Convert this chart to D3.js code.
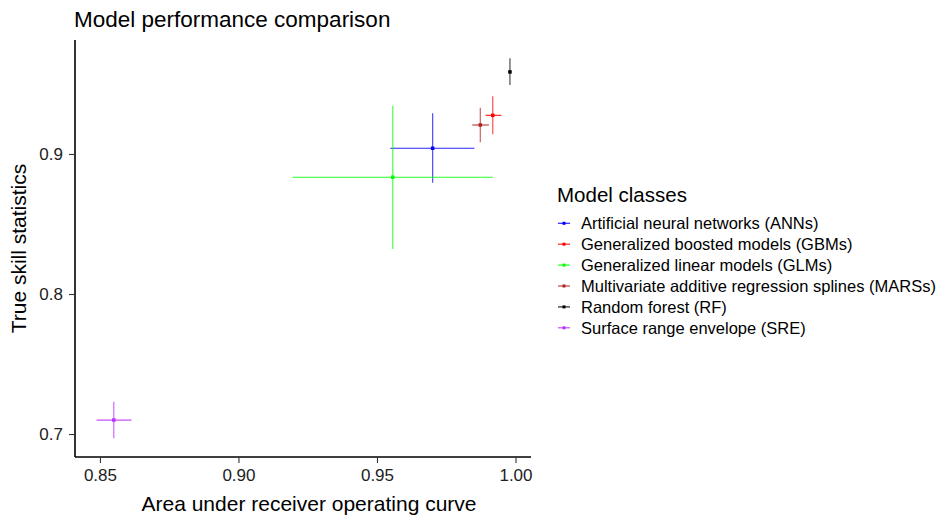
<!DOCTYPE html>
<html>
<head>
<meta charset="utf-8">
<script src="https://cdn.jsdelivr.net/npm/d3@7"></script>
<style>
  body { margin: 0; background: #fff; }
  text { font-family: "Liberation Sans", Arial, Helvetica, sans-serif; }
</style>
</head>
<body>
<div id="chart"></div>
<script>
var width  = 938,
    height = 520;

// data
var models   = ["Artificial neural networks (ANNs)", "Generalized boosted models (GBMs)",
                "Generalized linear models (GLMs)", "Multivariate additive regression splines (MARSs)",
                "Random forest (RF)", "Surface range envelope (SRE)"];
var colors   = ["#0000ff", "#ff0000", "#00ff00", "#b22222", "#000000", "#bb30ff"];
var aucMean  = [0.9701, 0.9918, 0.9557, 0.9873, 0.9980, 0.8550];
var aucLo    = [0.9548, 0.9892, 0.9195, 0.9844, 0.9976, 0.8488];
var aucHi    = [0.9852, 0.9949, 0.9918, 0.9904, 0.9984, 0.8614];
var tssMean  = [0.9041, 0.9276, 0.8834, 0.9207, 0.9586, 0.7100];
var tssLo    = [0.8795, 0.9141, 0.8321, 0.9083, 0.9493, 0.6970];
var tssHi    = [0.9290, 0.9412, 0.9345, 0.9331, 0.9683, 0.7230];
var xTicks   = [0.85, 0.90, 0.95, 1.00];
var yTicks   = [0.7, 0.8, 0.9];

var rows = models.map(function(m, i) {
    return { name: m, color: colors[i],
             x: aucMean[i], x0: aucLo[i], x1: aucHi[i],
             y: tssMean[i], y0: tssLo[i], y1: tssHi[i] };
});

var plotL = 75, plotR = 531, plotT = 40, plotB = 457;

var x = d3.scaleLinear()
    .domain([0.8410, 1.0056])
    .range([plotL, plotR]);
var y = d3.scaleLinear()
    .domain([0.6836, 0.9814])
    .range([plotB, plotT]);

var svg = d3.select("#chart").append("svg")
    .attr("width", width)
    .attr("height", height);

svg.append("rect").attr("width", width).attr("height", height).attr("fill", "#fff");

// title
svg.append("text")
    .attr("x", plotL - 1)
    .attr("y", 27)
    .style("font-size", "22.5px")
    .attr("fill", "#000")
    .text("Model performance comparison");

// axes
var gX = svg.append("g")
    .attr("transform", "translate(0," + plotB + ")")
    .call(d3.axisBottom(x).tickValues(xTicks).tickFormat(d3.format(".2f")).tickSize(6).tickPadding(6));
var gY = svg.append("g")
    .attr("transform", "translate(" + plotL + ",0)")
    .call(d3.axisLeft(y).tickValues(yTicks).tickFormat(d3.format(".1f")).tickSize(6).tickPadding(6));

[gX, gY].forEach(function(g) {
    g.select(".domain").attr("stroke", "#000").attr("stroke-width", 1.6);
    g.selectAll(".tick line").attr("stroke", "#333").attr("stroke-width", 1.1);
    g.selectAll(".tick text")
        .style("font-size", "17px")
        .style("font-family", "'Liberation Sans', Arial, sans-serif")
        .attr("fill", "#222");
});
gX.select(".domain").attr("d", "M" + plotL + ",0H" + plotR);
gY.select(".domain").attr("d", "M0," + plotT + "V" + plotB);

// axis titles
svg.append("text")
    .attr("x", 309)
    .attr("y", 511)
    .attr("text-anchor", "middle")
    .style("font-size", "21px")
    .text("Area under receiver operating curve");

svg.append("text")
    .attr("transform", "translate(26," + ((plotT + plotB) / 2) + ") rotate(-90)")
    .attr("text-anchor", "middle")
    .style("font-size", "21px")
    .text("True skill statistics");

// error bars
var plot = svg.append("g").attr("id", "plot");

var marks = plot.selectAll("g.model")
    .data(rows)
    .enter()
    .append("g")
    .attr("class", "model");

// horizontal = auc spread
marks.append("line")
    .attr("x1", function(d) { return x(d.x0); })
    .attr("x2", function(d) { return x(d.x1); })
    .attr("y1", function(d) { return y(d.y); })
    .attr("y2", function(d) { return y(d.y); })
    .attr("stroke", function(d) { return d.color; })
    .attr("stroke-opacity", 0.85)
    .attr("stroke-width", 1.2);

// vertical = tss spread
marks.append("line")
    .attr("x1", function(d) { return x(d.x); })
    .attr("x2", function(d) { return x(d.x); })
    .attr("y1", function(d) { return y(d.y0); })
    .attr("y2", function(d) { return y(d.y1); })
    .attr("stroke", function(d) { return d.color; })
    .attr("stroke-opacity", 0.7)
    .attr("stroke-width", 1.2);

marks.append("rect")
    .attr("x", function(d) { return x(d.x) - 1.75; })
    .attr("y", function(d) { return y(d.y) - 1.75; })
    .attr("width", 3.5)
    .attr("height", 3.5)
    .attr("fill", function(d) { return d.color; });

// legend
var legend = svg.append("g").attr("transform", "translate(556,0)");
legend.append("text")
    .attr("x", 1)
    .attr("y", 202)
    .style("font-size", "20.5px")
    .text("Model classes");

var items = legend.selectAll("g.item")
    .data(rows)
    .enter()
    .append("g")
    .attr("class", "item")
    .attr("transform", function(d, i) { return "translate(0," + (223.3 + i * 20.9) + ")"; });

items.append("line")
    .attr("x1", 2).attr("x2", 14)
    .attr("stroke", function(d) { return d.color; })
    .attr("stroke-opacity", 0.85)
    .attr("stroke-width", 1.2);
items.append("rect")
    .attr("x", 6.5).attr("y", -1.5)
    .attr("width", 3).attr("height", 3)
    .attr("fill", function(d) { return d.color; });
items.append("text")
    .attr("x", 25)
    .attr("dy", "0.35em")
    .style("font-size", "16.5px")
    .text(function(d) { return d.name; });
</script>
</body>
</html>
